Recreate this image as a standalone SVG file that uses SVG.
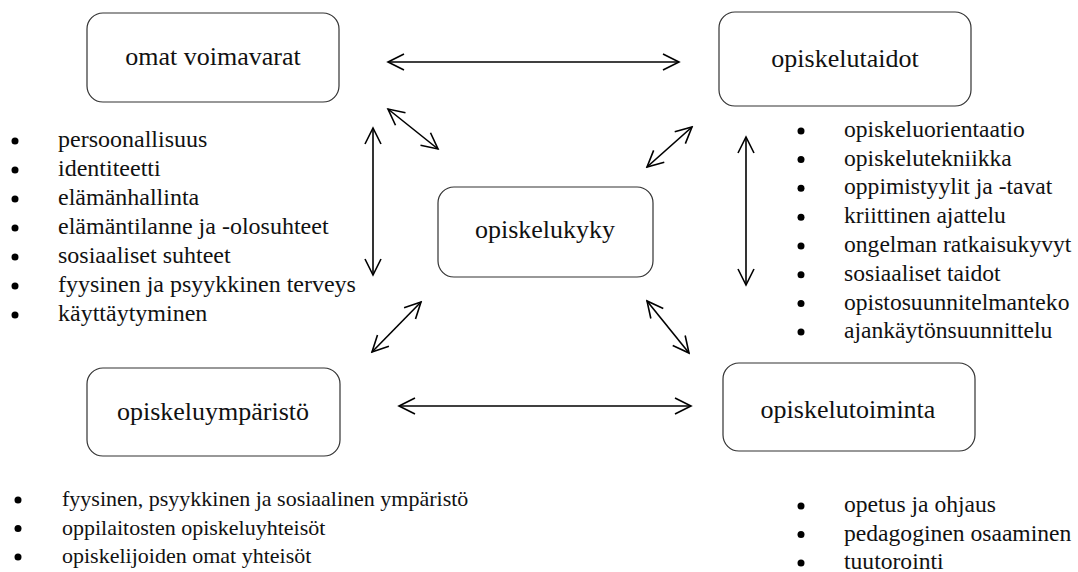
<svg xmlns="http://www.w3.org/2000/svg" width="1078" height="572" viewBox="0 0 1078 572" font-family="'Liberation Serif', 'Times New Roman', Times, serif">
<style>
text{font-family:'Liberation Serif','Times New Roman',Times,serif;fill:#111}
.box{fill:#fff;stroke:#333;stroke-width:1.2}
.bt{font-size:26px;text-anchor:middle}
.li{font-size:24px}
.lr{font-size:23.6px}
.lis{font-size:22px}
.b{fill:#000}
.ar{stroke:#000;stroke-width:1.6;fill:none;marker-start:url(#ah);marker-end:url(#ah)}
</style>
<defs>
<marker id="ah" viewBox="0 0 20 20" refX="18" refY="10" markerWidth="20" markerHeight="20" markerUnits="userSpaceOnUse" orient="auto-start-reverse">
<path d="M2,2 L18,10 L2,18" fill="none" stroke="#000" stroke-width="1.6"/>
</marker>
</defs>
<rect width="1078" height="572" fill="#fff"/>
<g id="connectors">
<line class="ar" x1="388" y1="62" x2="679" y2="62"/>
<line class="ar" x1="388" y1="109" x2="438" y2="149"/>
<line class="ar" x1="647" y1="167" x2="692" y2="127"/>
<line class="ar" x1="373" y1="128" x2="373" y2="275"/>
<line class="ar" x1="746" y1="137" x2="746" y2="285"/>
<line class="ar" x1="372" y1="352" x2="421" y2="302"/>
<line class="ar" x1="647" y1="301" x2="689" y2="353"/>
<line class="ar" x1="399" y1="406" x2="691" y2="406"/>
</g>
<g id="omat-voimavarat">
<rect class="box" x="87" y="13" width="252" height="89" rx="16"/>
<text class="bt" x="213" y="65">omat voimavarat</text>
</g>
<g id="opiskelutaidot">
<rect class="box" x="719" y="12" width="252" height="94" rx="16"/>
<text class="bt" x="845" y="67">opiskelutaidot</text>
</g>
<g id="opiskelukyky">
<rect class="box" x="438" y="187" width="215" height="90" rx="16"/>
<text class="bt" x="545" y="238">opiskelukyky</text>
</g>
<g id="opiskeluymparisto">
<rect class="box" x="87" y="368" width="253" height="88" rx="16"/>
<text class="bt" x="213" y="420">opiskeluympäristö</text>
</g>
<g id="opiskelutoiminta">
<rect class="box" x="723" y="363" width="252" height="88" rx="16"/>
<text class="bt" x="848" y="418">opiskelutoiminta</text>
</g>
<g id="list-voimavarat">
<circle class="b" cx="15" cy="141" r="3.5"/><text class="li" x="58" y="147">persoonallisuus</text>
<circle class="b" cx="15" cy="170" r="3.5"/><text class="li" x="58" y="176">identiteetti</text>
<circle class="b" cx="15" cy="199" r="3.5"/><text class="li" x="58" y="205">elämänhallinta</text>
<circle class="b" cx="15" cy="228" r="3.5"/><text class="li" x="58" y="234">elämäntilanne ja -olosuhteet</text>
<circle class="b" cx="15" cy="257" r="3.5"/><text class="li" x="58" y="263">sosiaaliset suhteet</text>
<circle class="b" cx="15" cy="286" r="3.5"/><text class="li" x="58" y="292">fyysinen ja psyykkinen terveys</text>
<circle class="b" cx="15" cy="315" r="3.5"/><text class="li" x="58" y="321">käyttäytyminen</text>
</g>
<g id="list-taidot">
<circle class="b" cx="801" cy="131" r="3.5"/><text class="lr" x="844" y="137">opiskeluorientaatio</text>
<circle class="b" cx="801" cy="159.5" r="3.5"/><text class="lr" x="844" y="165.5">opiskelutekniikka</text>
<circle class="b" cx="801" cy="188.3" r="3.5"/><text class="lr" x="844" y="194.3">oppimistyylit ja -tavat</text>
<circle class="b" cx="801" cy="217.2" r="3.5"/><text class="lr" x="844" y="223.2">kriittinen ajattelu</text>
<circle class="b" cx="801" cy="246" r="3.5"/><text class="lr" x="844" y="252">ongelman ratkaisukyvyt</text>
<circle class="b" cx="801" cy="274.8" r="3.5"/><text class="lr" x="844" y="280.8">sosiaaliset taidot</text>
<circle class="b" cx="801" cy="303.5" r="3.5"/><text class="lr" x="844" y="309.5">opistosuunnitelmanteko</text>
<circle class="b" cx="801" cy="332" r="3.5"/><text class="lr" x="844" y="338">ajankäytönsuunnittelu</text>
</g>
<g id="list-ymparisto">
<circle class="b" cx="18" cy="500" r="3.5"/><text class="lis" x="62" y="506">fyysinen, psyykkinen ja sosiaalinen ympäristö</text>
<circle class="b" cx="18" cy="528.5" r="3.5"/><text class="lis" x="62" y="534.5">oppilaitosten opiskeluyhteisöt</text>
<circle class="b" cx="18" cy="557" r="3.5"/><text class="lis" x="62" y="563">opiskelijoiden omat yhteisöt</text>
</g>
<g id="list-toiminta">
<circle class="b" cx="801" cy="506" r="3.5"/><text class="lr" x="844" y="512">opetus ja ohjaus</text>
<circle class="b" cx="801" cy="534.5" r="3.5"/><text class="lr" x="844" y="540.5">pedagoginen osaaminen</text>
<circle class="b" cx="801" cy="563" r="3.5"/><text class="lr" x="844" y="569">tuutorointi</text>
</g>
</svg>
